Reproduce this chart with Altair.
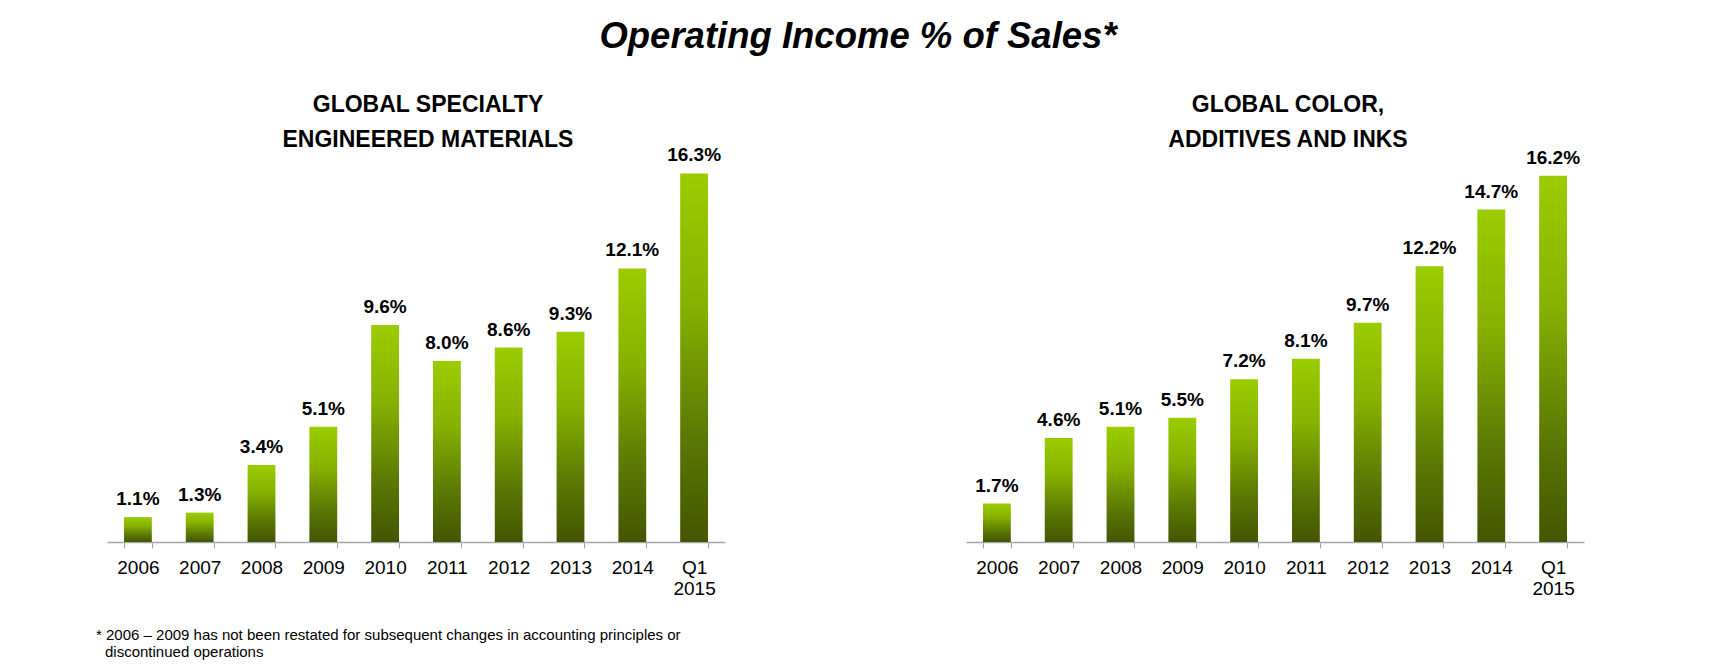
import altair as alt
import pandas as pd

FONT = "Liberation Sans"

categories = ["2006", "2007", "2008", "2009", "2010", "2011", "2012", "2013", "2014", "Q1 2015"]
sem_values = [1.1, 1.3, 3.4, 5.1, 9.6, 8.0, 8.6, 9.3, 12.1, 16.3]
cai_values = [1.7, 4.6, 5.1, 5.5, 7.2, 8.1, 9.7, 12.2, 14.7, 16.2]
sem_title = ["GLOBAL SPECIALTY", "ENGINEERED MATERIALS"]
cai_title = ["GLOBAL COLOR,", "ADDITIVES AND INKS"]
main_title = "Operating Income % of Sales*"
footnote_1 = "* 2006 \u2013 2009 has not been restated for subsequent changes in accounting principles or"
footnote_2 = "discontinued operations"

W = 618
H = 407

gradient = alt.LinearGradient(
    gradient="linear",
    stops=[
        alt.GradientStop(offset=0, color="#9BCC00"),
        alt.GradientStop(offset=0.35, color="#86B200"),
        alt.GradientStop(offset=0.72, color="#5B7804"),
        alt.GradientStop(offset=1, color="#445500"),
    ],
    x1=0, x2=0, y1=0, y2=1,
)


def panel(values, title_lines, title_dx, with_footnote=False):
    df = pd.DataFrame({"cat": categories, "v": values})
    base = alt.Chart(df).encode(
        x=alt.X(
            "cat:N",
            sort=categories,
            scale=alt.Scale(paddingInner=0.55, paddingOuter=0.275),
            axis=alt.Axis(
                title=None,
                labelAngle=0,
                labelFont=FONT,
                labelFontSize=19,
                labelColor="#000000",
                labelPadding=10,
                labelBaseline="top",
                labelLineHeight=21,
                labelExpr="datum.label == 'Q1 2015' ? ['Q1', '2015'] : datum.label",
                tickSize=6,
                tickBand="extent",
                tickColor="#A6A6A6",
                domainColor="#A6A6A6",
                domainWidth=1.5,
                grid=False,
            ),
        ),
        y=alt.Y("v:Q", scale=alt.Scale(domain=[0, 18]), axis=None),
    )
    bars = base.mark_bar(color=gradient)
    labels = base.transform_calculate(
        lbl="format(datum.v, '.1f') + '%'"
    ).mark_text(
        baseline="alphabetic", dy=-12, fontSize=19, fontWeight="bold",
        font=FONT, color="#000000"
    ).encode(text="lbl:N")
    one = pd.DataFrame({"k": [0]})
    title = alt.Chart(one).mark_text(
        text=title_lines, align="center", baseline="alphabetic", lineHeight=35,
        fontSize=23, fontWeight="bold", font=FONT, color="#000000"
    ).encode(x=alt.value(W / 2 + title_dx), y=alt.value(-23.5))
    layers = [bars, labels, title]
    if with_footnote:
        f1 = alt.Chart(one).mark_text(
            text=footnote_1, align="left", baseline="alphabetic",
            fontSize=15, font=FONT, color="#000000"
        ).encode(x=alt.value(-11), y=alt.value(504.5))
        f2 = alt.Chart(one).mark_text(
            text=footnote_2, align="left", baseline="alphabetic",
            fontSize=15, font=FONT, color="#000000"
        ).encode(x=alt.value(-2), y=alt.value(521.5))
        layers += [f1, f2]
    return alt.layer(*layers).properties(width=W, height=H)


left = panel(sem_values, sem_title, 12, with_footnote=True)
right = panel(cai_values, cai_title, 13)

chart = alt.hconcat(left, right, spacing=241).properties(
    title=alt.TitleParams(
        main_title, fontSize=36.5, font=FONT, fontStyle="italic", fontWeight="bold",
        anchor="middle", dx=18, offset=38, color="#000000"
    ),
    padding={"left": 88, "top": 11, "right": 5, "bottom": 5},
).configure_view(stroke=None)

chart.save("out.html", embed_options={"renderer": "svg", "actions": False})
